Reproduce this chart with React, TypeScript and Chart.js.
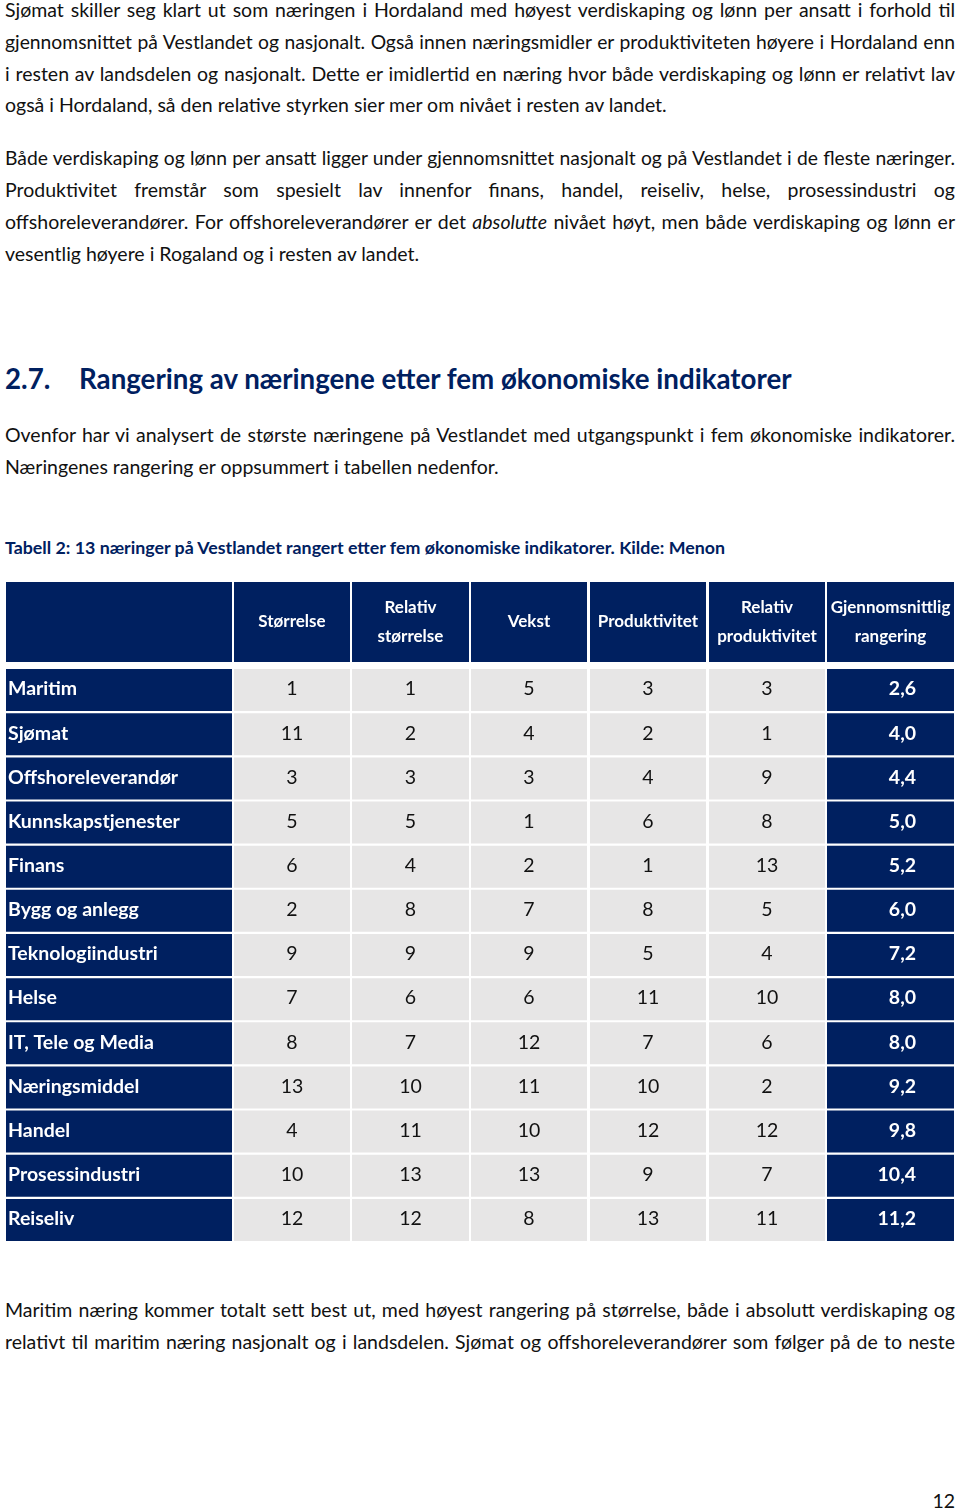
import React, { useEffect, useRef } from 'react';
import { Chart, registerables } from 'chart.js';

Chart.register(...registerables);

// ---- data ----
const industries = [
  'Maritim', 'Sjømat', 'Offshoreleverandør', 'Kunnskapstjenester', 'Finans', 'Bygg og anlegg',
  'Teknologiindustri', 'Helse', 'IT, Tele og Media', 'Næringsmiddel', 'Handel', 'Prosessindustri', 'Reiseliv',
];
const storrelse = [1, 11, 3, 5, 6, 2, 9, 7, 8, 13, 4, 10, 12];
const relativStorrelse = [1, 2, 3, 5, 4, 8, 9, 6, 7, 10, 11, 13, 12];
const vekst = [5, 4, 3, 1, 2, 7, 9, 6, 12, 11, 10, 13, 8];
const produktivitet = [3, 2, 4, 6, 1, 8, 5, 11, 7, 10, 12, 9, 13];
const relativProduktivitet = [3, 1, 9, 8, 13, 5, 4, 10, 6, 2, 12, 7, 11];
const gjennomsnitt = ['2,6', '4,0', '4,4', '5,0', '5,2', '6,0', '7,2', '8,0', '8,0', '9,2', '9,8', '10,4', '11,2'];
const columnHeaders = [
  [''], ['Størrelse'], ['Relativ', 'størrelse'], ['Vekst'], ['Produktivitet'],
  ['Relativ', 'produktivitet'], ['Gjennomsnittlig', 'rangering'],
];

// ---- layout / style ----
const COLUMN_EDGES = [[6, 232], [234, 350], [352, 469], [471, 587], [590, 706], [709, 825], [827, 954]];
const NAVY = '#002060';
const GRAY = '#E7E6E6';
const FONT = 'Lato, "Open Sans", sans-serif';

const columnTexts: (string | number)[][] = [
  industries, storrelse, relativStorrelse, vekst, produktivitet, relativProduktivitet, gjennomsnitt,
];

const tablePlugin = {
  id: 'tableText',
  beforeDatasetsDraw(chart: any) {
    const ctx = chart.ctx;
    const xs = chart.scales.x;
    const top = chart.chartArea.top - 86;
    const h = 80;
    ctx.save();
    COLUMN_EDGES.forEach((e, i) => {
      const l = xs.getPixelForValue(e[0]);
      const r = xs.getPixelForValue(e[1]);
      ctx.fillStyle = NAVY;
      ctx.fillRect(l, top, r - l, h);
      ctx.fillStyle = '#ffffff';
      ctx.font = `bold 17px ${FONT}`;
      ctx.textAlign = 'center';
      ctx.textBaseline = 'middle';
      const lines = columnHeaders[i];
      const cx = (l + r) / 2;
      const cy = top + h / 2;
      if (lines.length === 1) ctx.fillText(lines[0], cx, cy);
      else {
        ctx.fillText(lines[0], cx, cy - 14.5);
        ctx.fillText(lines[1], cx, cy + 14.5);
      }
    });
    ctx.restore();
  },
  afterDatasetsDraw(chart: any) {
    const ctx = chart.ctx;
    ctx.save();
    ctx.textBaseline = 'middle';
    chart.data.datasets.forEach((ds: any, d: number) => {
      const meta = chart.getDatasetMeta(d);
      meta.data.forEach((bar: any, i: number) => {
        const p = bar.getProps(['x', 'base', 'y'], true);
        const l = Math.min(p.x, p.base);
        const r = Math.max(p.x, p.base);
        const txt = String(columnTexts[d][i]);
        if (d === 0) {
          ctx.font = `bold 19.5px ${FONT}`;
          ctx.fillStyle = '#ffffff';
          ctx.textAlign = 'left';
          ctx.fillText(txt, l + 2, p.y - 1);
        } else if (d === 6) {
          ctx.font = `bold 19.5px ${FONT}`;
          ctx.fillStyle = '#ffffff';
          ctx.textAlign = 'right';
          ctx.fillText(txt, r - 38, p.y - 1);
        } else {
          ctx.font = `19.5px ${FONT}`;
          ctx.fillStyle = '#111111';
          ctx.textAlign = 'center';
          ctx.fillText(txt, (l + r) / 2, p.y - 1);
        }
      });
    });
    ctx.restore();
  },
};

function TableChart() {
  const ref = useRef<HTMLCanvasElement | null>(null);
  useEffect(() => {
    if (!ref.current) return;
    const chart = new Chart(ref.current, {
      type: 'bar',
      data: {
        labels: industries,
        datasets: COLUMN_EDGES.map((edge, i) => ({
          label: columnHeaders[i].join(' '),
          data: industries.map(() => [edge[0], edge[1]]),
          backgroundColor: i === 0 || i === 6 ? NAVY : GRAY,
          borderWidth: 0,
          grouped: false,
          barPercentage: 0.951,
          categoryPercentage: 1,
        })) as any,
      },
      options: {
        indexAxis: 'y',
        responsive: false,
        animation: false,
        events: [],
        layout: { padding: { top: 93, bottom: 8, left: 0, right: 0 } },
        scales: {
          x: { type: 'linear', min: 0, max: 960, display: false },
          y: { type: 'category', display: false, offset: true },
        },
        plugins: { legend: { display: false }, tooltip: { enabled: false } },
      } as any,
      plugins: [tablePlugin],
    });
    return () => chart.destroy();
  }, []);
  return (
    <canvas
      ref={ref}
      width={960}
      height={675}
      style={{ position: 'absolute', left: 0, top: 575, width: 960, height: 675 }}
    />
  );
}

const BODY_SIZE = 19.5;

function Line({ cy, children, justify = true, size = BODY_SIZE }: { cy: number; children: any; justify?: boolean; size?: number }) {
  return (
    <div
      style={{
        position: 'absolute',
        left: 5,
        width: 950,
        top: cy - 16,
        height: 32,
        lineHeight: '32px',
        fontSize: size,
        fontFamily: FONT,
        color: '#111',
        textAlign: 'justify',
        textAlignLast: justify ? 'justify' : 'left',
        whiteSpace: 'nowrap',
      } as any}
    >
      {children}
    </div>
  );
}

export default function App() {
  return (
    <div style={{ position: 'absolute', left: 0, top: 0, width: 960, height: 1511, background: '#fff', overflow: 'hidden' }}>
      <Line cy={10}>Sjømat skiller seg klart ut som næringen i Hordaland med høyest verdiskaping og lønn per ansatt i forhold til</Line>
      <Line cy={42} size={19.3}>gjennomsnittet på Vestlandet og nasjonalt. Også innen næringsmidler er produktiviteten høyere i Hordaland enn</Line>
      <Line cy={74}>i resten av landsdelen og nasjonalt. Dette er imidlertid en næring hvor både verdiskaping og lønn er relativt lav</Line>
      <Line cy={105} justify={false}>også i Hordaland, så den relative styrken sier mer om nivået i resten av landet.</Line>

      <Line cy={158} size={19.3}>Både verdiskaping og lønn per ansatt ligger under gjennomsnittet nasjonalt og på Vestlandet i de fleste næringer.</Line>
      <Line cy={190}>Produktivitet fremstår som spesielt lav innenfor finans, handel, reiseliv, helse, prosessindustri og</Line>
      <Line cy={222}>offshoreleverandører. For offshoreleverandører er det <i>absolutte</i> nivået høyt, men både verdiskaping og lønn er</Line>
      <Line cy={254} justify={false}>vesentlig høyere i Rogaland og i resten av landet.</Line>

      <div style={{ position: 'absolute', left: 5, top: 361, height: 36, lineHeight: '36px', fontSize: 27.7, fontWeight: 700, fontFamily: FONT, color: NAVY, whiteSpace: 'nowrap' }}>
        <span style={{ display: 'inline-block', width: 74 }}>2.7.</span>
        <span>Rangering av næringene etter fem økonomiske indikatorer</span>
      </div>

      <Line cy={435}>Ovenfor har vi analysert de største næringene på Vestlandet med utgangspunkt i fem økonomiske indikatorer.</Line>
      <Line cy={467} justify={false}>Næringenes rangering er oppsummert i tabellen nedenfor.</Line>

      <div style={{ position: 'absolute', left: 5, top: 535, height: 24, lineHeight: '24px', fontSize: 17.8, fontWeight: 700, fontFamily: FONT, color: NAVY, whiteSpace: 'nowrap' }}>
        Tabell 2: 13 næringer på Vestlandet rangert etter fem økonomiske indikatorer. Kilde: Menon
      </div>

      <TableChart />

      <Line cy={1310}>Maritim næring kommer totalt sett best ut, med høyest rangering på størrelse, både i absolutt verdiskaping og</Line>
      <Line cy={1342}>relativt til maritim næring nasjonalt og i landsdelen. Sjømat og offshoreleverandører som følger på de to neste</Line>

      <div style={{ position: 'absolute', right: 5, top: 1488, height: 26, lineHeight: '26px', fontSize: 19.5, fontFamily: FONT, color: '#111' }}>12</div>
    </div>
  );
}
